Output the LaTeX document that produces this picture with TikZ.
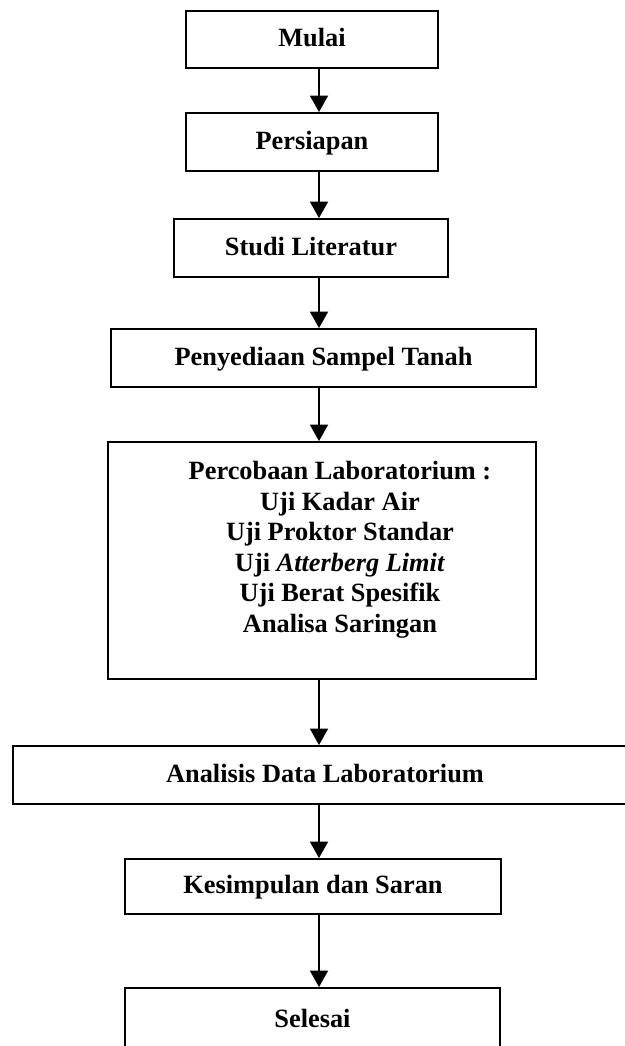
\documentclass[tikz,border=0pt]{standalone}
\usepackage{fontspec}
\setmainfont{Liberation Serif}
\usetikzlibrary{arrows.meta}

\begin{document}
\begin{tikzpicture}[x=0.02cm, y=-0.02cm,
    box/.style={draw, line width=1.1pt, minimum height=1.16cm, inner sep=0pt,
      font=\fontsize{15}{17.4}\selectfont\bfseries, text height=1.8ex, text depth=0ex},
    arr/.style={-{Triangle[length=3.3mm, width=3.6mm]}, line width=1.1pt}]
            \useasboundingbox (0,0) rectangle (625,1046);
            \clip (0,0) rectangle (625,1046);
            \coordinate (axis) at (319,0);
            \node[box, minimum width=5.04cm, minimum height=1.14cm] (mulai) at (312,39.5) {Mulai};
            \node[box, minimum width=5.04cm] (persiapan) at (312,142) {Persiapan};
            \node[box, minimum width=5.48cm] (studi) at (311,248) {Studi Literatur};
            \node[box, minimum width=8.5cm] (sampel) at (323.5,358) {Penyediaan Sampel Tanah};
            \node[box, minimum width=8.56cm, minimum height=4.74cm] (lab) at (322,560.5) {};
            \node[font=\fontsize{15}{17.4}\selectfont\bfseries, align=center, anchor=north, inner sep=0pt]
                (labtext) at (340,461) {Percobaan Laboratorium :\\Uji Kadar Air\\Uji Proktor Standar\\
                Uji \textit{Atterberg Limit}\\Uji Berat Spesifik\\Analisa Saringan};
            \node[box, minimum width=12.48cm] (analisis) at (325,775) {Analisis Data Laboratorium};
            \node[box, minimum width=7.52cm, minimum height=1.1cm] (kesimpulan) at (313,886.5) {Kesimpulan dan Saran};
            \node[box, minimum width=7.5cm, minimum height=1.28cm] (selesai) at (312.5,1020) {Selesai};
            \draw[arr] (mulai.south -| axis) -- (persiapan.north -| axis);
            \draw[arr] (persiapan.south -| axis) -- (studi.north -| axis);
            \draw[arr] (studi.south -| axis) -- (sampel.north -| axis);
            \draw[arr] (sampel.south -| axis) -- (lab.north -| axis);
            \draw[arr] (lab.south -| axis) -- (analisis.north -| axis);
            \draw[arr] (analisis.south -| axis) -- (kesimpulan.north -| axis);
            \draw[arr] (kesimpulan.south -| axis) -- (selesai.north -| axis);
        \end{tikzpicture}
\end{document}
